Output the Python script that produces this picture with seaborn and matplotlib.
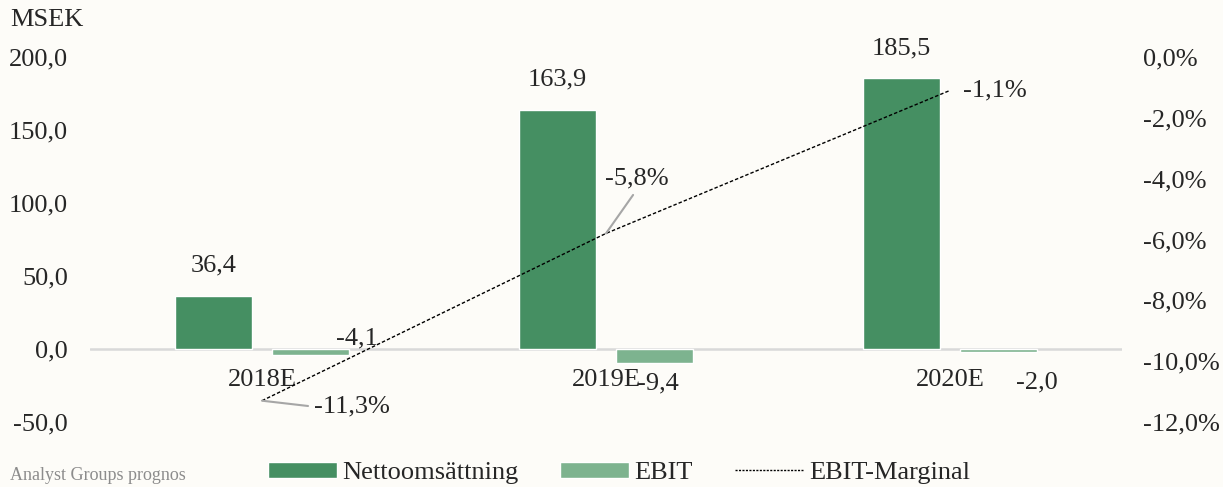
import numpy as np
import pandas as pd
import matplotlib.pyplot as plt
import seaborn as sns
from matplotlib.patches import Patch
from matplotlib.lines import Line2D

# Data
years = ["2018E", "2019E", "2020E"]
netto = [36.4, 163.9, 185.5]
ebit = [-4.1, -9.4, -2.0]
margin = [-11.3, -5.8, -1.1]
left_ticks = [-50, 0, 50, 100, 150, 200]
right_ticks = [-12, -10, -8, -6, -4, -2, 0]

dark_green = "#458F62"
light_green = "#7DB38F"
bg = "#FDFCF8"
fs = 19

sns.set_style("white")
plt.rcParams["font.family"] = ["Liberation Serif", "DejaVu Serif"]

def comma(v, pct=False):
    s = f"{v:.1f}".replace(".", ",")
    return s + "%" if pct else s

df = pd.DataFrame({
    "year": years * 2,
    "series": ["Nettoomsättning"] * 3 + ["EBIT"] * 3,
    "value": netto + ebit,
})

fig = plt.figure(figsize=(12.23, 4.87), dpi=100, facecolor=bg)
ax = fig.add_axes([0.0736, 0.1335, 0.8438, 0.7495])
ax.set_facecolor(bg)

ax.axhline(0, color="#D9D9D9", lw=1.8, zorder=0)
sns.barplot(data=df, x="year", y="value", hue="series",
            palette=[dark_green, light_green], width=0.564, gap=0.206,
            saturation=1, legend=False, ax=ax, zorder=2)

ax.set_xlim(-0.5, 2.5)
ax.set_ylim(-50, 200)
ax.set_yticks(left_ticks)
ax.set_yticklabels([comma(v) for v in left_ticks], fontsize=fs)
ax.tick_params(axis="y", length=0, pad=16)
ax.set_xticks([])
ax.set_xlabel("")
ax.set_ylabel("")
for s in ax.spines.values():
    s.set_visible(False)

# category labels sit just below the zero line
for i, y in enumerate(years):
    ax.annotate(y, (i, 0), xytext=(0, -31), textcoords="offset pixels",
                ha="center", va="center", fontsize=fs)

# bar value labels
off = 0.141
for i, v in enumerate(netto):
    ax.annotate(comma(v), (i - off, v), xytext=(0, 30), textcoords="offset pixels",
                ha="center", va="center", fontsize=fs)
ebit_offsets = [(46, 17), (3, -21), (38, -31)]
for i, v in enumerate(ebit):
    ax.annotate(comma(v), (i + off, v), xytext=ebit_offsets[i], textcoords="offset pixels",
                ha="center", va="center", fontsize=fs)

# EBIT margin on the right axis
ax2 = ax.twinx()
ax2.set_ylim(-12, 0)
sns.lineplot(x=np.arange(len(years)), y=margin, ax=ax2, color="black",
             lw=1.0, linestyle=(0, (2.5, 1.5)), zorder=3)
ax2.set_yticks(right_ticks)
ax2.set_yticklabels([comma(v, True) for v in right_ticks], fontsize=fs)
ax2.tick_params(axis="y", length=0, pad=15)
ax2.set_xlim(-0.5, 2.5)
for s in ax2.spines.values():
    s.set_visible(False)

lead = dict(arrowstyle="-", color="#A6A6A6", lw=1.5, shrinkA=2, shrinkB=0)
ax2.annotate(comma(margin[0], True), (0, margin[0]), xytext=(90, -6),
             textcoords="offset pixels", ha="center", va="center", fontsize=fs,
             arrowprops=dict(lead, relpos=(0, 0.5)))
ax2.annotate(comma(margin[1], True), (1, margin[1]), xytext=(31, 55),
             textcoords="offset pixels", ha="center", va="center", fontsize=fs,
             arrowprops=dict(lead, relpos=(0.5, 0)))
ax2.annotate(comma(margin[2], True), (2, margin[2]), xytext=(45, 0),
             textcoords="offset pixels", ha="center", va="center", fontsize=fs)

fig.text(10 / 1223, 1 - 20 / 487, "MSEK", fontsize=fs, va="center", ha="left")
fig.text(10 / 1223, 1 - 475 / 487, "Analyst Groups prognos", fontsize=13,
         color="#8C8C8C", va="center", ha="left")

handles = [
    Patch(facecolor=dark_green, label="Nettoomsättning"),
    Patch(facecolor=light_green, label="EBIT"),
    Line2D([], [], color="black", lw=1.0, linestyle=(0, (1.5, 1)), label="EBIT-Marginal"),
]
fig.legend(handles=handles, loc="center", bbox_to_anchor=(0.506, 0.029), ncol=3,
           frameon=False, fontsize=fs, handlelength=2.6, handleheight=0.55,
           handletextpad=0.2, columnspacing=1.6)

fig.savefig("out.png", dpi=100, facecolor=bg)
